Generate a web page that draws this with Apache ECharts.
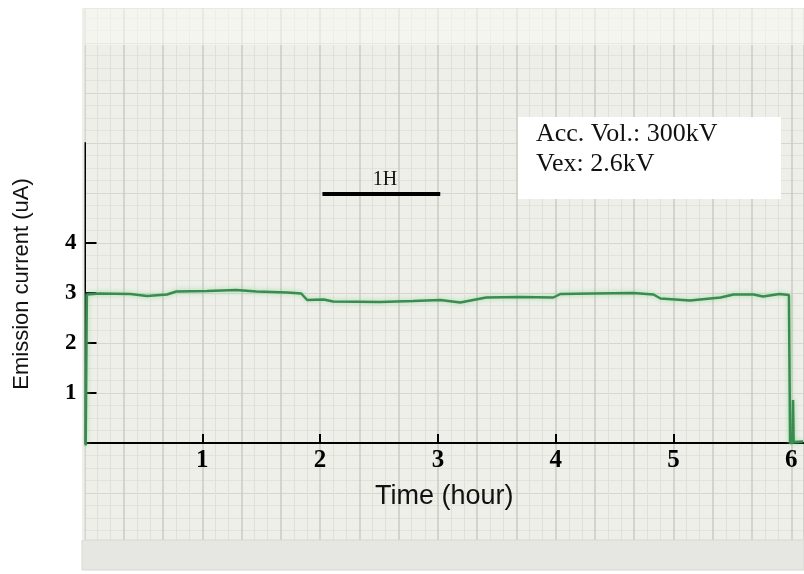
<!DOCTYPE html>
<html>
<head>
<meta charset="utf-8">
<title>Emission current</title>
<script src="https://cdn.jsdelivr.net/npm/echarts@6/dist/echarts.min.js"></script>
<style>
  html, body { margin: 0; padding: 0; background: #ffffff; }
  #chart { width: 804px; height: 574px; }
</style>
</head>
<body>
<div id="chart"></div>
<script>
// pen trace
var timeH = [0.01, 0.02, 0.13, 0.39, 0.53, 0.70, 0.78, 1.04, 1.29, 1.46, 1.72, 1.84, 1.89, 2.03, 2.11, 2.51, 2.79, 3.02,
             3.19, 3.41, 3.70, 3.98, 4.04, 4.32, 4.66, 4.83, 4.89, 5.14, 5.40, 5.51, 5.68, 5.76, 5.90, 5.98, 5.99, 6.01,
             6.015, 6.02, 6.10];
var current = [-0.05, 2.97, 2.99, 2.98, 2.94, 2.97, 3.03, 3.04, 3.06, 3.03, 3.01, 2.99, 2.86, 2.87, 2.83, 2.82, 2.84, 2.86,
               2.81, 2.91, 2.92, 2.91, 2.98, 2.99, 3.00, 2.97, 2.89, 2.85, 2.91, 2.97, 2.97, 2.93, 2.98, 2.96, 0.0, 0.0,
               0.86, 0.02, 0.03];
// 1 hour scale bar
var barTime = [2.02, 2.55, 3.02];
var barLevel = [4.98, 4.98, 4.98];
var barText = '1H';

var xTicks = [1, 2, 3, 4, 5, 6];
var yTicks = [1, 2, 3, 4];
var noteLines = ['Acc. Vol.: 300kV', 'Vex: 2.6kV'];

var traceData = [];
for (var i = 0; i < timeH.length; i++) {
  traceData.push([timeH[i], current[i]]);
}
var barData = [];
for (var j = 0; j < barTime.length; j++) {
  if (j == 1) {
    barData.push({value: [barTime[j], barLevel[j]], symbolSize: 0,
      label: {show: true, formatter: barText, position: 'top', distance: 4,
        color: '#111', fontSize: 20, fontFamily: 'Liberation Serif'}});
  } else {
    barData.push([barTime[j], barLevel[j]]);
  }
}

var myChart = echarts.init(document.getElementById('chart'), null, {renderer: 'canvas'});
var serif = 'Liberation Serif';
var option = {
  animation: false,
  grid: [
    {left: 84.5, right: 0, top: 143, bottom: 131},
    {left: 84.5, right: 0, top: 8, bottom: 31, show: true, backgroundColor: '#efefe9', borderWidth: 0, z: -1}
  ],
  xAxis: [
    {
      type: 'value', gridIndex: 0, min: 0, max: 6.108, interval: 1,
      name: 'Time (hour)', nameLocation: 'middle', nameGap: 40,
      nameTextStyle: {color: '#111', fontSize: 27, fontFamily: 'Liberation Sans'},
      axisLine: {show: true, onZero: false, lineStyle: {color: '#000', width: 2}},
      axisTick: {show: true, inside: true, length: 9, customValues: xTicks, lineStyle: {color: '#000', width: 2}},
      axisLabel: {customValues: xTicks, margin: 5, color: '#000', fontSize: 25, fontWeight: 'bold', fontFamily: serif},
      splitLine: {show: false}
    },
    {
      type: 'value', gridIndex: 1, min: 0, max: 6.108, interval: 1 / 3,
      axisLine: {show: false}, axisTick: {show: false}, axisLabel: {show: false},
      splitLine: {show: true, lineStyle: {color: '#cbcbc4', width: 1.5}},
      minorTick: {show: false, splitNumber: 3},
      minorSplitLine: {show: true, lineStyle: {color: '#e0e0da', width: 1}}
    }
  ],
  yAxis: [
    {
      type: 'value', gridIndex: 0, min: 0, max: 6, interval: 1,
      name: 'Emission current (uA)', nameLocation: 'middle', nameGap: 52, nameRotate: 90,
      nameTextStyle: {color: '#111', fontSize: 22, fontFamily: 'Liberation Sans', padding: [0, 0, 0, 18]},
      axisLine: {show: true, onZero: false, lineStyle: {color: '#000', width: 2}},
      axisTick: {show: true, inside: true, length: 12, customValues: yTicks, lineStyle: {color: '#000', width: 2}},
      axisLabel: {customValues: yTicks, margin: 8, color: '#000', fontSize: 23, fontWeight: 'bold', fontFamily: serif},
      splitLine: {show: false}
    },
    {
      type: 'value', gridIndex: 1, min: -2, max: 8.7, interval: 1,
      axisLine: {show: false}, axisTick: {show: false}, axisLabel: {show: false},
      splitLine: {show: true, lineStyle: {color: '#d6d6cf', width: 1}},
      minorTick: {show: false, splitNumber: 4},
      minorSplitLine: {show: true, lineStyle: {color: '#e3e3dd', width: 1}}
    }
  ],
  graphic: [
    // lighter header strip and grey bottom strip of the paper
    {type: 'rect', z: 1, silent: true, shape: {x: 82, y: 8, width: 722, height: 37},
      style: {fill: 'rgba(250,250,246,0.55)'}},
    {type: 'rect', z: 1, silent: true, shape: {x: 82, y: 540, width: 722, height: 30},
      style: {fill: '#e6e6e2', stroke: '#d8d8d2', lineWidth: 1}},
    {type: 'rect', z: 1, silent: true, shape: {x: 82, y: 8, width: 2.5, height: 532},
      style: {fill: '#efefe9'}},
    {type: 'rect', z: 3, silent: true, shape: {x: 518, y: 117, width: 263, height: 82},
      style: {fill: '#ffffff'}},
    {type: 'text', z: 4, silent: true, left: 536, top: 119,
      style: {text: noteLines.join('\n'), fill: '#111', font: '26px "Liberation Serif"', lineHeight: 30}}
  ],
  series: [
    {
      name: 'trace', type: 'line', xAxisIndex: 0, yAxisIndex: 0, data: traceData,
      showSymbol: false, clip: false, z: 5,
      lineStyle: {color: '#3b8a50', width: 2.5, shadowColor: 'rgba(120,215,140,0.8)', shadowBlur: 5}
    },
    {
      name: 'scale', type: 'line', xAxisIndex: 0, yAxisIndex: 0, data: barData,
      symbol: 'circle', symbolSize: 0, showSymbol: true, clip: false, z: 5,
      lineStyle: {color: '#000', width: 4}
    }
  ]
};
myChart.setOption(option);
</script>
</body>
</html>
